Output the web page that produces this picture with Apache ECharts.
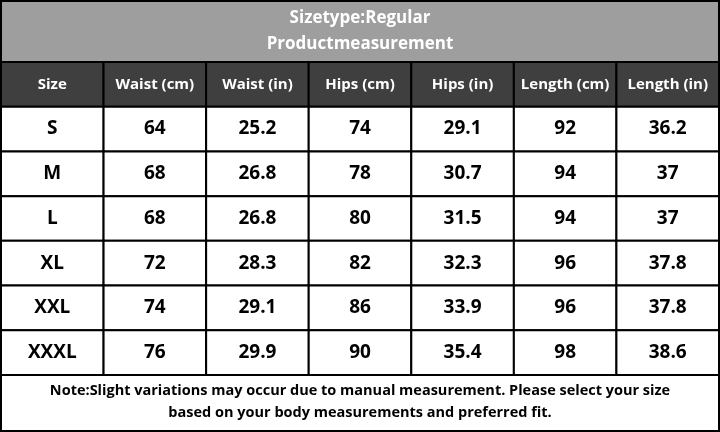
<!DOCTYPE html>
<html><head><meta charset="utf-8">
<script src="https://cdn.jsdelivr.net/npm/echarts@6/dist/echarts.min.js"></script>
<style>html,body{margin:0;padding:0;background:#fff}#c{width:720px;height:432px}</style>
</head><body><div id="c"></div>
<script>
const titleLines = ['Sizetype:Regular', 'Productmeasurement'];
const headers = ['Size', 'Waist (cm)', 'Waist (in)', 'Hips (cm)', 'Hips (in)', 'Length (cm)', 'Length (in)'];
const sizes = ['S', 'M', 'L', 'XL', 'XXL', 'XXXL'];
const waistCm = [64, 68, 68, 72, 74, 76];
const waistIn = [25.2, 26.8, 26.8, 28.3, 29.1, 29.9];
const hipsCm = [74, 78, 80, 82, 86, 90];
const hipsIn = [29.1, 30.7, 31.5, 32.3, 33.9, 35.4];
const lengthCm = [92, 94, 94, 96, 96, 98];
const lengthIn = [36.2, 37, 37, 37.8, 37.8, 38.6];
const note = ['Note:Slight variations may occur due to manual measurement. Please select your size', 'based on your body measurements and preferred fit.'];

const cols = [sizes, waistCm, waistIn, hipsCm, hipsIn, lengthCm, lengthIn];
const rowNames = ['h'].concat(sizes.map((s, i) => 'r' + i));
const data = [];
headers.forEach((h, c) => data.push([c, 0, h]));
sizes.forEach((s, r) => cols.forEach((col, c) => data.push([c, r + 1, String(col[r])])));

const FONT = '"Open Sans", Lato, sans-serif';
const chart = echarts.init(document.getElementById('c'));
chart.setOption({
  animation: false,
  grid: {left: 1, right: 1, top: 62, bottom: 57},
  xAxis: {type: 'category', data: headers.map((h, i) => i), show: false},
  yAxis: {type: 'category', data: rowNames.map((r, i) => i), inverse: true, show: false},
  graphic: [
    {type: 'rect', shape: {x: 1, y: 1, width: 718, height: 61}, style: {fill: '#9e9e9e', stroke: '#000', lineWidth: 2}},
    {type: 'text', x: 360, y: 18, style: {text: titleLines[0], fill: '#fff', font: 'bold 17px ' + FONT, align: 'center', verticalAlign: 'middle'}},
    {type: 'text', x: 360, y: 44, style: {text: titleLines[1], fill: '#fff', font: 'bold 17px ' + FONT, align: 'center', verticalAlign: 'middle'}},
    {type: 'rect', shape: {x: 1, y: 375, width: 718, height: 56}, style: {fill: '#fff', stroke: '#000', lineWidth: 2}},
    {type: 'text', x: 360, y: 391, style: {text: note[0], fill: '#000', font: 'bold 14.5px ' + FONT, align: 'center', verticalAlign: 'middle'}},
    {type: 'text', x: 360, y: 413, style: {text: note[1], fill: '#000', font: 'bold 14.5px ' + FONT, align: 'center', verticalAlign: 'middle'}}
  ],
  series: [{
    type: 'custom',
    data: data,
    encode: {x: 0, y: 1},
    renderItem: function (params, api) {
      const c = api.value(0), r = api.value(1);
      const p = api.coord([c, r]);
      const s = api.size([1, 1]);
      const hdr = r === 0;
      return {
        type: 'group',
        children: [
          {type: 'rect', shape: {x: p[0] - s[0] / 2, y: p[1] - s[1] / 2, width: s[0], height: s[1]},
           style: {fill: hdr ? '#3f3f3f' : '#fff', stroke: '#000', lineWidth: 2}},
          {type: 'text', x: p[0], y: p[1],
           style: {text: data[params.dataIndex][2], fill: hdr ? '#fff' : '#000',
                   font: (hdr ? 'bold 15px ' : 'bold 19px ') + FONT, align: 'center', verticalAlign: 'middle'}}
        ]
      };
    }
  }]
});
</script></body></html>
